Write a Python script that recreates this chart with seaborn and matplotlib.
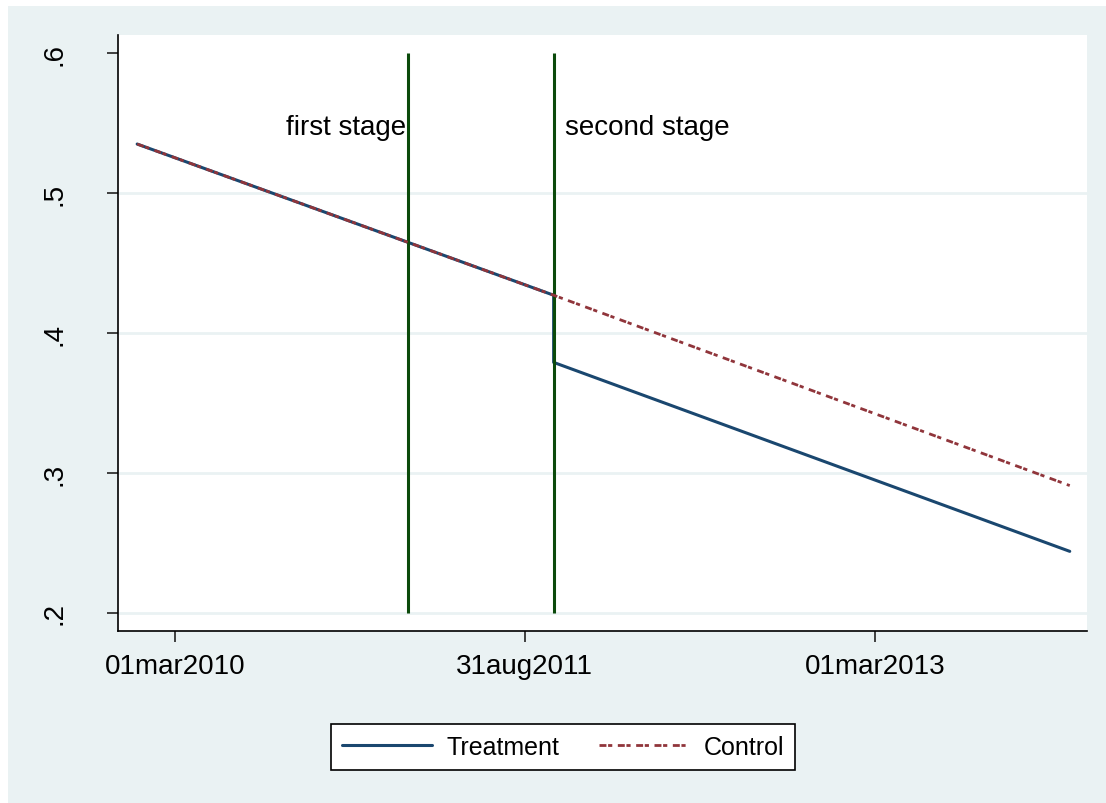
import pandas as pd
import seaborn as sns
import matplotlib.pyplot as plt
from matplotlib.patches import Rectangle

# values
dates_treat = ['2010-01-01', '2011-10-15', '2011-10-15', '2013-12-31']
vals_treat = [0.535, 0.427, 0.379, 0.244]
dates_ctrl = ['2010-01-01', '2011-10-15', '2013-12-31']
vals_ctrl = [0.535, 0.427, 0.291]
stage_dates = ['2011-03-01', '2011-10-15']
stage_labels = ['first stage', 'second stage']
xtick_dates = ['2010-03-01', '2011-08-31', '2013-03-01']
xtick_labels = ['01mar2010', '31aug2011', '01mar2013']
yticks = [0.2, 0.3, 0.4, 0.5, 0.6]
ytick_labels = ['.2', '.3', '.4', '.5', '.6']

sns.set_style('white')
plt.rcParams['font.family'] = ['Liberation Sans', 'DejaVu Sans']
plt.rcParams['text.color'] = 'black'

bg = '#EAF2F3'
navy = '#1A476F'
maroon = '#90353B'
green = '#0B4A0B'

fig = plt.figure(figsize=(11.06, 8.04), dpi=100)
fig.patch.set_facecolor('white')
fig.patches.append(Rectangle((8 / 1106, 0), 1, 1 - 7 / 804, transform=fig.transFigure,
                             facecolor=bg, edgecolor='none', zorder=-10))
ax = fig.add_axes([118 / 1106, 172 / 804, 969 / 1106, 596 / 804])
ax.set_facecolor('white')

treat = pd.DataFrame({'date': pd.to_datetime(dates_treat), 'val': vals_treat})
ctrl = pd.DataFrame({'date': pd.to_datetime(dates_ctrl), 'val': vals_ctrl})

for g in yticks[:-1]:
    ax.axhline(g, color=bg, lw=2, zorder=0)

for d in pd.to_datetime(stage_dates):
    ax.vlines(d, 0.2, 0.6, color=green, lw=2.2, zorder=3)

sns.lineplot(data=ctrl, x='date', y='val', ax=ax, color=maroon, lw=2.0,
             estimator=None, sort=False, label='Control', zorder=4)
sns.lineplot(data=treat, x='date', y='val', ax=ax, color=navy, lw=2.2,
             estimator=None, sort=False, label='Treatment', zorder=2)
ax.lines[-2].set_dashes((2.5, 0.6, 1.5, 2.0))

s1, s2 = pd.to_datetime(stage_dates)
ax.annotate(stage_labels[0], (s1, 0.547), xytext=(-1.5, 0), textcoords='offset points',
            ha='right', va='center', fontsize=20, color='black')
ax.annotate(stage_labels[1], (s2, 0.547), xytext=(8, 0), textcoords='offset points',
            ha='left', va='center', fontsize=20, color='black')

x0 = pd.Timestamp('2010-03-01')
ax.set_xlim(x0 - pd.Timedelta(days=89), x0 + pd.Timedelta(days=1428))
ax.set_ylim(0.1871, 0.6129)
ax.set_xticks(pd.to_datetime(xtick_dates))
ax.set_xticklabels(xtick_labels, fontsize=20)
ax.set_yticks(yticks)
ax.set_yticklabels(ytick_labels, fontsize=20, rotation=90, va='center')
ax.tick_params(axis='both', direction='out', length=8, width=1.2, color='#222222',
               labelcolor='black', left=True, bottom=True)
ax.tick_params(axis='x', pad=8)
ax.tick_params(axis='y', pad=28)
ax.set_xlabel('')
ax.set_ylabel('')
for side in ['top', 'right']:
    ax.spines[side].set_visible(False)
for side in ['left', 'bottom']:
    ax.spines[side].set_color('black')
    ax.spines[side].set_linewidth(1.2)

ax.get_legend().remove()
h, l = ax.get_legend_handles_labels()
order = [l.index('Treatment'), l.index('Control')]
leg = fig.legend([h[i] for i in order], [l[i] for i in order], ncol=2,
                 loc='center', bbox_to_anchor=(563 / 1106, 1 - 748 / 804),
                 fontsize=18, frameon=True, fancybox=False, edgecolor='black',
                 facecolor='white', framealpha=1,
                 handlelength=3.6, handletextpad=0.6, columnspacing=1.55,
                 borderpad=0.45, borderaxespad=0)
leg.get_frame().set_linewidth(1.2)
for t in leg.get_texts():
    t.set_color('black')

fig.savefig('out.png', dpi=100, facecolor='white')
